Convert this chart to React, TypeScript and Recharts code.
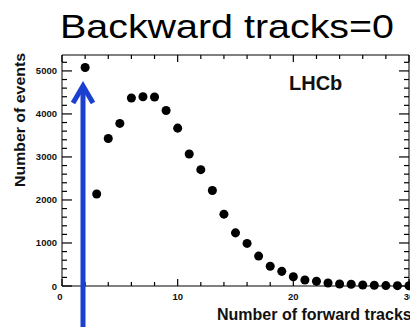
import { ScatterChart, Scatter, XAxis, YAxis, ZAxis } from "recharts"

const forwardTracks = [2, 3, 4, 5, 6, 7, 8, 9, 10, 11, 12, 13, 14, 15, 16, 17, 18, 19, 20, 21, 22, 23, 24, 25, 26, 27, 28, 29, 30]
const events = [5080, 2140, 3430, 3780, 4370, 4400, 4395, 4080, 3670, 3070, 2705, 2220, 1670, 1235, 990, 695, 460, 340, 215, 140, 110, 70, 48, 40, 22, 16, 10, 8, 5]
const xTicks = [0, 2, 4, 6, 8, 10, 12, 14, 16, 18, 20, 22, 24, 26, 28, 30]
const xLabels = [0, 10, 20, 30]
const yTicks = [0, 200, 400, 600, 800, 1000, 1200, 1400, 1600, 1800, 2000, 2200, 2400, 2600, 2800, 3000, 3200, 3400, 3600, 3800, 4000, 4200, 4400, 4600, 4800, 5000, 5200]
const yLabels = [0, 1000, 2000, 3000, 4000, 5000]

const data = forwardTracks.map((x, i) => ({ x, y: events[i] }))

const font = "'Liberation Sans', Arial, sans-serif"

// ROOT-style ticks: drawn inward from the frame
const XTick = (props: any) => {
  const { x, y, payload, side } = props
  const major = xLabels.includes(payload.value)
  const len = major ? 7 : 4
  const dir = side === "bottom" ? -1 : 1
  return (
    <g>
      <path d={`M${x},${y}V${y + dir * len}`} stroke="#000" strokeWidth={1.2} />
      {side === "bottom" && major && (
        <text x={payload.value === 0 ? x - 2 : x} y={y + 14} textAnchor="middle" fontSize={9.5} fontWeight="bold" fontFamily={font} fill="#111">
          {payload.value}
        </text>
      )}
    </g>
  )
}

const YTick = (props: any) => {
  const { x, y, payload, side } = props
  const major = yLabels.includes(payload.value)
  const len = major ? 10 : 5
  const dir = side === "left" ? 1 : -1
  return (
    <g>
      <path d={`M${x},${y}H${x + dir * len}`} stroke="#000" strokeWidth={1.2} />
      {side === "left" && major && (
        <text x={x - 5} y={y + 3.5} textAnchor="end" fontSize={9.5} fontWeight="bold" fontFamily={font} fill="#111">
          {payload.value}
        </text>
      )}
    </g>
  )
}

export default function App() {
  return (
    <div style={{ position: "absolute", left: 0, top: 0, width: 410, height: 327, background: "#fff", overflow: "hidden" }}>
      <ScatterChart width={410} height={327} margin={{ top: 54, right: 0, bottom: 0, left: 0 }}>
        <XAxis
          xAxisId="top"
          orientation="top"
          type="number"
          dataKey="x"
          domain={[0, 30]}
          ticks={xTicks}
          height={1}
          tickSize={0}
          tickMargin={0}
          axisLine={{ stroke: "#000" }}
          tickLine={false}
          tick={<XTick side="top" />}
          interval={0}
        />
        <YAxis
          yAxisId="right"
          orientation="right"
          type="number"
          dataKey="y"
          domain={[0, 5370]}
          ticks={yTicks}
          width={1}
          tickSize={0}
          tickMargin={0}
          axisLine={{ stroke: "#000" }}
          tickLine={false}
          tick={<YTick side="right" />}
          interval={0}
        />
        <XAxis
          type="number"
          dataKey="x"
          domain={[0, 30]}
          ticks={xTicks}
          height={41}
          tickSize={0}
          tickMargin={0}
          axisLine={{ stroke: "#000" }}
          tickLine={false}
          tick={<XTick side="bottom" />}
          interval={0}
        />
        <YAxis
          type="number"
          dataKey="y"
          domain={[0, 5370]}
          ticks={yTicks}
          width={62}
          tickSize={0}
          tickMargin={0}
          axisLine={{ stroke: "#000" }}
          tickLine={false}
          tick={<YTick side="left" />}
          interval={0}
        />
        <ZAxis range={[40, 40]} />
        <Scatter data={data} fill="#000" shape="circle" isAnimationActive={false} />
        {/* invisible series so the mirrored frame axes get drawn */}
        <Scatter data={data} xAxisId="top" yAxisId="right" fill="none" shape={() => <g />} isAnimationActive={false} />
      </ScatterChart>
      <svg width={410} height={327} style={{ position: "absolute", left: 0, top: 0, pointerEvents: "none" }}>
        <text x={60} y={38} fontSize={34} fontFamily={font} fill="#000" textLength={334} lengthAdjust="spacingAndGlyphs">
          Backward tracks=0
        </text>
        <text transform="translate(25,120) rotate(-90)" textAnchor="middle" fontSize={14} fontWeight="bold" fontFamily={font} fill="#111" textLength={134} lengthAdjust="spacingAndGlyphs">
          Number of events
        </text>
        <text x={217} y={320} fontSize={16} fontWeight="bold" fontFamily={font} fill="#111">
          Number of forward tracks
        </text>
        <text x={289} y={90} fontSize={20} fontWeight="bold" fontFamily={font} fill="#111">
          LHCb
        </text>
        <line x1={83} y1={327} x2={83} y2={88} stroke="#1b3fcf" strokeWidth={5} />
        <polyline points="73,103 83,86 93,103" fill="none" stroke="#1b3fcf" strokeWidth={5} strokeLinejoin="miter" />
      </svg>
    </div>
  )
}
